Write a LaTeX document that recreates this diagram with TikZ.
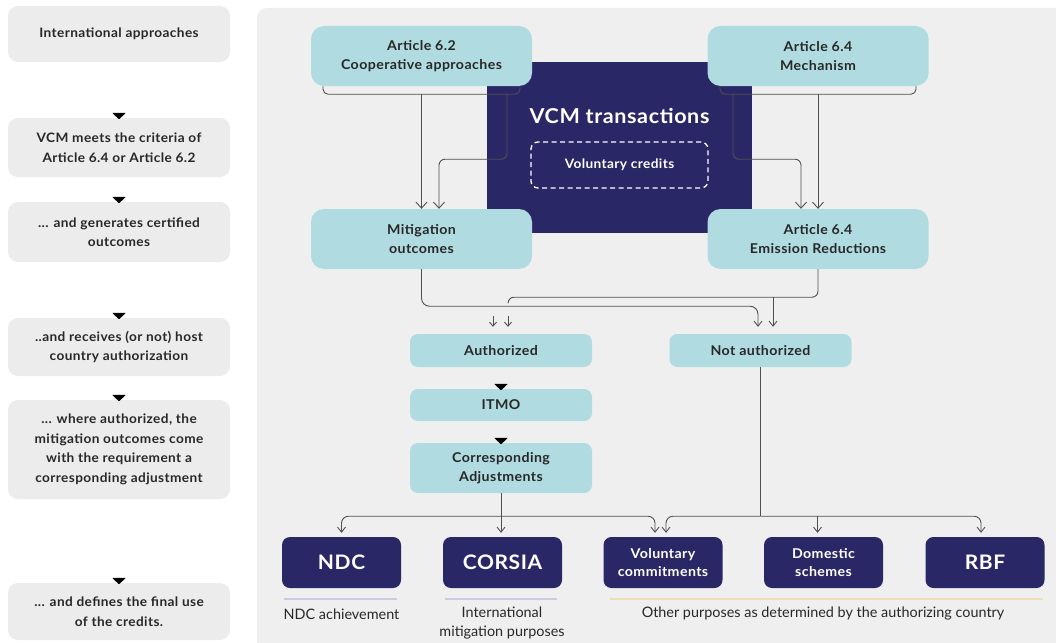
\documentclass[tikz,border=0pt]{standalone}
\usepackage{fontspec}
\setmainfont{Lato}[BoldFeatures={FakeStretch=1.05, LetterSpace=3}]
\usetikzlibrary{arrows.meta}

\definecolor{pagebg}{HTML}{FFFFFF}
\definecolor{panelgray}{HTML}{EFEFEF}
\definecolor{stepgray}{HTML}{ECECEC}
\definecolor{aqua}{HTML}{B0DCE1}
\definecolor{navy}{HTML}{2A2766}
\definecolor{ink}{HTML}{282828}
\definecolor{wirecol}{HTML}{505050}
\definecolor{lav}{HTML}{C9CAE3}
\definecolor{sand}{HTML}{F0DDB5}

\tikzset{
  stepbox/.style={fill=stepgray, rounded corners=10pt, inner sep=0pt,
    minimum width=222pt, align=center, text=ink,
    font=\bfseries\fontsize{13}{19.5}\selectfont},
  aquabox/.style={fill=aqua, rounded corners=13pt, inner sep=0pt,
    minimum width=221pt, minimum height=60pt, align=center, text=ink,
    font=\bfseries\fontsize{13.5}{19}\selectfont},
  aquasmall/.style={fill=aqua, rounded corners=8pt, inner sep=0pt,
    minimum width=182pt, align=center, text=ink,
    font=\bfseries\fontsize{13.5}{18.5}\selectfont},
  navybox/.style={fill=navy, rounded corners=8pt, inner sep=0pt,
    minimum width=119pt, minimum height=51pt, align=center, text=white,
    font=\bfseries\fontsize{20}{24}\selectfont},
  navytwo/.style={navybox, font=\bfseries\fontsize{13.5}{18}\selectfont},
  caption/.style={align=center, text=ink, inner sep=0pt,
    font=\fontsize{14.4}{19}\selectfont},
  wire/.style={draw=wirecol, line width=0.9pt},
  arrbig/.style={wire, -{Straight Barb[length=6pt,width=11pt]}},
  arrmid/.style={wire, -{Straight Barb[length=5pt,width=8pt]}},
  arrsmall/.style={wire, -{Straight Barb[length=4pt,width=7pt]}},
}

% downward-pointing step marker above a box
\newcommand{\stepmark}[1]{%
  \fill[black, rounded corners=0.8pt] ([xshift=-7pt,yshift=5pt]#1.north)
    -- ++(14,0) -- ++(-7,6.5) -- cycle;}

\begin{document}
\begin{tikzpicture}[x=1pt, y=-1pt]
\useasboundingbox (0,0) rectangle (1056,642);
\clip (0,0) rectangle (1056,642);
\fill[pagebg] (0,0) rectangle (1056,642);

% right-hand panel
\fill[panelgray, rounded corners=10pt] (257,8) rectangle (1075,665);

% left column of steps
\node[stepbox, minimum height=56pt] (s1) at (119,34) {International approaches};
\node[stepbox, minimum height=59pt] (s2) at (119,147.5) {VCM meets the criteria of\\Article 6.4 or Article 6.2};
\node[stepbox, minimum height=60pt] (s3) at (119,232) {... and generates certified\\outcomes};
\node[stepbox, minimum height=58pt] (s4) at (119,347) {..and receives (or not) host\\country authorization};
\node[stepbox, minimum height=99pt] (s5) at (119,449.5) {... where authorized, the\\mitigation outcomes come\\with the requirement a\\corresponding adjustment};
\node[stepbox, minimum height=57pt] (s6) at (119,611.5) {... and defines the final use\\of the credits.};
\stepmark{s2}
\stepmark{s3}
\stepmark{s4}
\stepmark{s5}
\stepmark{s6}

% central VCM block
\node[fill=navy, inner sep=0pt, minimum width=265pt, minimum height=171pt] (vcm) at (619.5,147.5) {};
\node[text=white, inner sep=0pt, font=\bfseries\fontsize{20.5}{24}\selectfont] (vcmt) at (619.5,116) {VCM transactions};
\node[draw=white, dash pattern=on 5pt off 3.5pt, line width=1.3pt, rounded corners=7pt,
  inner sep=0pt, minimum width=177pt, minimum height=46pt, text=white,
  font=\bfseries\fontsize{13}{16}\selectfont] (vc) at (619.5,165) {Voluntary credits};

% article boxes
\node[aquabox] (a62) at (421.5,56) {Article 6.2\\Cooperative approaches};
\node[aquabox] (a64) at (818,56) {Article 6.4\\Mechanism};
\node[aquabox] (mo) at (421.5,239) {Mitigation\\outcomes};
\node[aquabox] (er) at (818,239) {Article 6.4\\Emission Reductions};

% authorization path
\node[aquasmall, minimum height=33pt] (au) at (501,350.5) {Authorized};
\node[aquasmall, minimum height=33pt] (na) at (760.5,350.5) {Not authorized};
\node[aquasmall, minimum height=32pt] (itmo) at (501,405) {ITMO};
\node[aquasmall, minimum height=50pt] (ca) at (501,468) {Corresponding\\Adjustments};
\stepmark{itmo}
\stepmark{ca}

% final uses
\node[navybox] (ndc) at (341.5,562.5) {NDC};
\node[navybox] (cor) at (502.5,562.5) {CORSIA};
\node[navytwo] (vol) at (663,562.5) {Voluntary\\commitments};
\node[navytwo] (dom) at (823.5,562.5) {Domestic\\schemes};
\node[navybox] (rbf) at (985,562.5) {RBF};

% underlines and captions
\draw[lav, line width=2.2pt] (284,599) -- (397,599);
\draw[lav, line width=2.2pt] (445,599) -- (557,599);
\draw[sand, line width=2.2pt] (610,599) -- (1043,599);
\node[caption] (ndcl) at (341.5,614) {NDC achievement};
\node[caption] (corl) at (502,623.5) {International\\mitigation purposes};
\node[caption] (othl) at (823,614) {Other purposes as determined by the authorizing country};

% brackets under the article boxes
\draw[wire, rounded corners=5pt] ([xshift=-98.5pt]a62.south) -- ++(0,8) -- ++(197,0) -- ++(0,-8);
\draw[wire, rounded corners=5pt] ([xshift=-98pt]a64.south) -- ++(0,8) -- ++(196,0) -- ++(0,-8);
\coordinate (b62) at ([yshift=-8pt]a62.south);
\coordinate (b62r) at ([xshift=85.5pt]b62);
\coordinate (b64) at ([yshift=-8pt]a64.south);
\coordinate (b64l) at ([xshift=-85pt]b64);

% article boxes to outcomes
\draw[arrbig] (b62) -- (mo.north);
\draw[arrbig, rounded corners=6pt] (b62r) -- ++(0,65) -| ([xshift=17.5pt]mo.north);
\draw[arrbig] (b64) -- (er.north);
\draw[arrbig, rounded corners=6pt] (b64l) -- ++(0,65) -| ([xshift=-17pt]er.north);

% outcomes to authorization
\draw[arrmid, rounded corners=8pt] (mo.south) -- ++(0,37) -| ([xshift=-2.5pt,yshift=7pt]na.north);
\draw[wire, rounded corners=6pt] (er.south) -- ++(0,28) -| ([xshift=7pt,yshift=31pt]au.north);
\draw[arrmid] ([xshift=-45pt,yshift=-28pt]er.south) -- ([xshift=12.5pt,yshift=7pt]na.north);
\draw[arrsmall] ([xshift=-8pt,yshift=18pt]au.north) -- ([xshift=-8pt,yshift=7pt]au.north);
\draw[arrsmall] ([xshift=7pt,yshift=18pt]au.north) -- ([xshift=7pt,yshift=7pt]au.north);

% distribution to final uses
\coordinate (busl) at ([yshift=-23pt]ca.south);
\coordinate (busr) at (na.south |- busl);
\coordinate (corin) at (ca.south |- cor.north);
\draw[arrmid] (ca.south) -- ([yshift=4pt]corin);
\draw[arrmid, rounded corners=7pt] (busl) -| ([yshift=4pt]ndc.north);
\draw[arrmid, rounded corners=7pt] (busl) -| ([xshift=-8pt,yshift=4pt]vol.north);
\draw[wire] (na.south) -- (busr);
\draw[arrmid, rounded corners=7pt] (busr) -| ([xshift=3pt,yshift=4pt]vol.north);
\draw[arrmid, rounded corners=7pt] (busr) -| ([xshift=-4pt,yshift=4pt]rbf.north);
\coordinate (domin) at ([xshift=-6pt]dom.north);
\draw[arrmid] (domin |- busr) -- ([yshift=4pt]domin);
\end{tikzpicture}
\end{document}
